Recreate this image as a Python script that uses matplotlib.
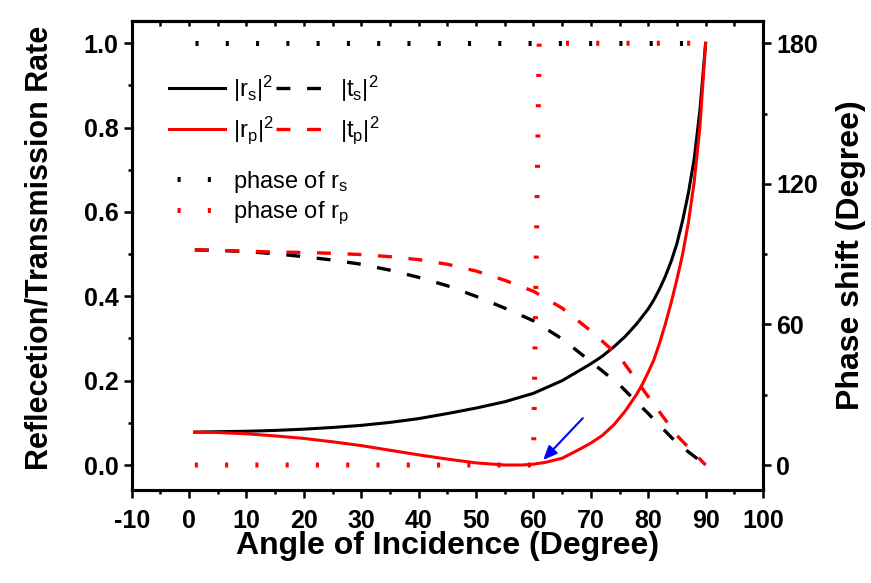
import numpy as np
import matplotlib
matplotlib.use('Agg')
import matplotlib.pyplot as plt
from matplotlib.lines import Line2D
from matplotlib.ticker import MultipleLocator, FormatStrFormatter

plt.rcParams['font.family'] = ['Liberation Sans', 'DejaVu Sans']
plt.rcParams['mathtext.fontset'] = 'custom'
plt.rcParams['mathtext.rm'] = 'Liberation Sans'
plt.rcParams['mathtext.it'] = 'Liberation Sans'
plt.rcParams['mathtext.bf'] = 'Liberation Sans:bold'
plt.rcParams['lines.scale_dashes'] = False
plt.rcParams['axes.unicode_minus'] = False

# reflection / transmission (amplitude squared) vs angle of incidence
ang = [1, 5, 10, 15, 20, 25, 30, 35, 40, 45, 50, 55, 60, 65, 70, 75, 80, 85, 90]
ts2 = [0.510, 0.509, 0.506, 0.501, 0.494, 0.486, 0.476, 0.462, 0.445, 0.425,
       0.400, 0.372, 0.342, 0.299, 0.245, 0.190, 0.122, 0.052, 0.0]
tp2 = [0.510, 0.509, 0.507, 0.505, 0.504, 0.502, 0.499, 0.494, 0.487, 0.476,
       0.460, 0.438, 0.412, 0.372, 0.318, 0.257, 0.162, 0.070, 0.0]

ang_rs = [1, 5, 10, 15, 20, 25, 30, 35, 40, 45, 50, 55, 60, 65, 70, 72, 74,
          76, 78, 80, 81, 82, 83, 84, 85, 86, 87, 88, 89, 90]
rs2 = [0.078, 0.079, 0.080, 0.082, 0.085, 0.089, 0.094, 0.101, 0.110, 0.122,
       0.135, 0.150, 0.170, 0.200, 0.240, 0.258, 0.280, 0.305, 0.335, 0.370,
       0.392, 0.418, 0.448, 0.483, 0.525, 0.580, 0.645, 0.725, 0.840, 1.0]

ang_rp = [1, 5, 10, 15, 20, 25, 30, 35, 40, 45, 50, 55, 58, 60, 62, 65, 68,
          70, 72, 74, 76, 78, 79, 80, 81, 82, 83, 84, 85, 86, 87, 88, 89, 90]
rp2 = [0.078, 0.077, 0.074, 0.069, 0.063, 0.055, 0.046, 0.035, 0.024, 0.014,
       0.005, 0.0, 0.0, 0.002, 0.006, 0.016, 0.037, 0.052, 0.070, 0.095,
       0.128, 0.168, 0.192, 0.220, 0.250, 0.290, 0.335, 0.385, 0.440, 0.500,
       0.575, 0.670, 0.800, 1.0]

# phase of the reflected amplitudes (degree)
phase_ang_s = [1, 90]
phase_s = [180, 180]
phase_ang_p = [1, 60, 61, 90]
phase_p = [0, 0, 180, 180]

arrow_tail = (68.6, 0.111)
arrow_head = (61.7, 0.012)

dash = (10, 12)
dot = (2.2, 19.6)

fig = plt.figure(figsize=(8.71, 5.83), dpi=100)
ax = fig.add_axes([0.1512, 0.1595, 0.7248, 0.8045])
ax2 = ax.twinx()

l_rs, = ax.plot(ang_rs, rs2, color='black', lw=2.2)
l_ts, = ax.plot(ang, ts2, color='black', lw=2.4, dashes=dash)
l_rp, = ax.plot(ang_rp, rp2, color='red', lw=2.2)
l_tp, = ax.plot(ang, tp2, color='red', lw=2.4, dashes=dash)

ax2.plot(phase_ang_s, phase_s, color='black', lw=3.6, dashes=dot)
ax2.plot(phase_ang_p, phase_p, color='red', lw=3.6, dashes=dot)

ax.annotate('', xy=arrow_head, xytext=arrow_tail,
            arrowprops=dict(arrowstyle='-|>,head_length=0.7,head_width=0.3',
                            color='blue', lw=1.5, mutation_scale=12,
                            shrinkA=0, shrinkB=0))

ax.set_xlim(-10, 100)
ax.set_ylim(-0.0593, 1.0529)
ax2.set_ylim(-10.67, 189.5)

ax.xaxis.set_major_locator(MultipleLocator(10))
ax.xaxis.set_minor_locator(MultipleLocator(5))
ax.yaxis.set_major_locator(MultipleLocator(0.2))
ax.yaxis.set_minor_locator(MultipleLocator(0.1))
ax.yaxis.set_major_formatter(FormatStrFormatter('%.1f'))
ax2.yaxis.set_major_locator(MultipleLocator(60))
ax2.yaxis.set_minor_locator(MultipleLocator(30))

for a in (ax, ax2):
    a.tick_params(which='both', direction='out', width=1.8, labelsize=18, pad=4)
    a.tick_params(which='major', length=5.5)
    a.tick_params(which='minor', length=3)
    for s in a.spines.values():
        s.set_linewidth(2.2)
    for t in a.get_xticklabels() + a.get_yticklabels():
        t.set_fontweight('bold')
ax.tick_params(axis='x', which='both', pad=8)

top = ax.secondary_xaxis('top')
top.set_xticks(np.arange(-10, 101, 5))
top.tick_params(direction='in', length=3.5, width=1.8, labeltop=False)
top.spines['top'].set_linewidth(2.2)

ax.set_xlabel('Angle of Incidence (Degree)', fontsize=23, fontweight='bold')
ax.xaxis.set_label_coords(0.5, -0.088)
ax.set_ylabel('Reflecetion/Transmission Rate', fontsize=22, fontweight='bold')
ax.yaxis.set_label_coords(-0.1215, 0.517)
ax2.set_ylabel('Phase shift (Degree)', fontsize=23, fontweight='bold')
ax2.yaxis.set_label_coords(1.1157, 0.501)

leg1 = ax2.legend([l_rs, l_rp, l_ts, l_tp],
                  [r'$\mathregular{|r_s|^2}$', r'$\mathregular{|r_p|^2}$',
                   r'$\mathregular{|t_s|^2}$', r'$\mathregular{|t_p|^2}$'],
                  ncol=2, loc='upper left', bbox_to_anchor=(0.059, 0.888),
                  frameon=False, borderpad=0, borderaxespad=0,
                  handlelength=2.37, handletextpad=0.34, columnspacing=0.1,
                  labelspacing=0.45, prop={'size': 17})
ax2.add_artist(leg1)

ph_s = Line2D([], [], color='black', lw=3.6, linestyle=(16, dot))
ph_p = Line2D([], [], color='red', lw=3.6, linestyle=(16, dot))
ax2.legend([ph_s, ph_p], [r'phase of r$_\mathregular{s}$', r'phase of r$_\mathregular{p}$'],
           loc='upper left', bbox_to_anchor=(0.059, 0.685),
           frameon=False, borderpad=0, borderaxespad=0,
           handlelength=2.37, handletextpad=0.34, labelspacing=0.2,
           prop={'size': 17})

fig.savefig('out.png', dpi=100)
